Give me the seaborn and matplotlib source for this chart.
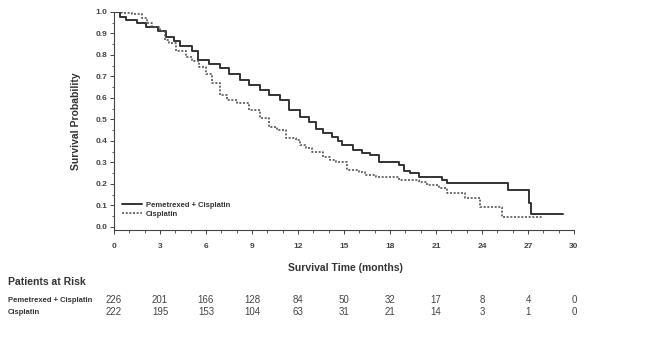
import numpy as np
import pandas as pd
import seaborn as sns
import matplotlib.pyplot as plt
from matplotlib.ticker import MultipleLocator
import matplotlib.transforms as mtransforms

# Kaplan-Meier step points
pem_time = [0, 0.4, 0.8, 1.5, 2.1, 2.9, 3.4, 3.9, 4.3, 5.1,
            5.5, 6.2, 6.9, 7.5, 8.2, 8.8, 9.5, 10.1, 10.8, 11.4,
            12.1, 12.7, 13.2, 13.6, 14.2, 14.6, 14.9, 15.6, 16.2, 16.7,
            17.3, 18.6, 18.9, 19.3, 19.9, 21.4, 21.7, 25.7, 27.05, 27.2,
            29.3]
pem_surv = [1.0, 0.975, 0.963, 0.95, 0.93, 0.91, 0.885, 0.865, 0.84, 0.82,
            0.777, 0.76, 0.74, 0.71, 0.684, 0.66, 0.637, 0.615, 0.59, 0.545,
            0.51, 0.49, 0.455, 0.437, 0.42, 0.40, 0.38, 0.358, 0.345, 0.335,
            0.30, 0.288, 0.26, 0.25, 0.234, 0.218, 0.203, 0.169, 0.113, 0.058,
            0.058]

cis_time = [0, 0.5, 1.2, 1.8, 2.15, 2.5, 3.0, 3.3, 3.6, 4.05,
            4.7, 5.1, 5.55, 6.0, 6.4, 6.9, 7.4, 8.0, 8.8, 9.5,
            10.1, 10.6, 11.2, 11.9, 12.1, 12.5, 12.9, 13.6, 14.1, 14.5,
            15.2, 16.0, 16.4, 17.1, 18.6, 19.9, 20.4, 21.2, 21.7, 22.9,
            23.9, 25.3, 28.0]
cis_surv = [1.0, 0.995, 0.99, 0.97, 0.947, 0.93, 0.91, 0.87, 0.855, 0.82,
            0.79, 0.77, 0.745, 0.71, 0.67, 0.614, 0.59, 0.576, 0.544, 0.507,
            0.465, 0.451, 0.414, 0.405, 0.38, 0.365, 0.35, 0.326, 0.31, 0.30,
            0.265, 0.256, 0.242, 0.232, 0.218, 0.21, 0.195, 0.18, 0.155, 0.135,
            0.094, 0.045, 0.045]

risk_times = [0, 3, 6, 9, 12, 15, 18, 21, 24, 27, 30]
pem_risk = [226, 201, 166, 128, 84, 50, 32, 17, 8, 4, 0]
cis_risk = [222, 195, 153, 104, 63, 31, 21, 14, 3, 1, 0]

sns.set_style("white")
plt.rcParams['font.family'] = ['Liberation Sans', 'DejaVu Sans']

fig = plt.figure(figsize=(6.66, 3.63), dpi=100)
ax = fig.add_axes([114 / 666, 1 - 230 / 363, 460 / 666, 218 / 363])

pem = pd.DataFrame({"t": pem_time, "s": pem_surv})
cis = pd.DataFrame({"t": cis_time, "s": cis_surv})
sns.lineplot(data=pem, x="t", y="s", ax=ax, drawstyle="steps-post",
             estimator=None, color="#333333", lw=1.4,
             label="Pemetrexed + Cisplatin")
sns.lineplot(data=cis, x="t", y="s", ax=ax, drawstyle="steps-post",
             estimator=None, color="#555555", lw=1.2, linestyle=(0, (1.2, 1.0)),
             label="Cisplatin")

ax.set_xlim(0, 30)
ax.set_ylim(-0.015, 1.0)
ax.set_xticks(range(0, 31, 3))
ax.set_yticks(np.arange(0, 1.01, 0.1))
ax.set_yticklabels([f"{v:.1f}" for v in np.arange(0, 1.01, 0.1)])
ax.xaxis.set_minor_locator(MultipleLocator(1))
ax.yaxis.set_minor_locator(MultipleLocator(0.05))
ax.tick_params(axis="both", which="major", length=3, width=0.7,
               labelsize=6, colors="#444444", direction="out", pad=2)
ax.tick_params(axis="both", which="minor", length=1.8, width=0.6,
               colors="#444444", direction="out")
ax.tick_params(bottom=True, left=True, which="both")
for lab in ax.get_xticklabels() + ax.get_yticklabels():
    lab.set_fontweight("bold")
ax.xaxis.set_tick_params(pad=6)

for side in ["top", "right"]:
    ax.spines[side].set_visible(False)
for side in ["left", "bottom"]:
    ax.spines[side].set_color("#444444")
    ax.spines[side].set_linewidth(0.8)

ax.set_xlabel("")
ax.set_ylabel("Survival Probability", fontsize=7.5, fontweight="bold",
              color="#333333", labelpad=10)

leg = ax.legend(loc="lower left", bbox_to_anchor=(0.005, 0.03), frameon=False,
                fontsize=5.5, handlelength=2.6, handletextpad=0.6,
                labelspacing=0.25, borderpad=0.2)
for txt in leg.get_texts():
    txt.set_fontweight("bold")
    txt.set_color("#333333")

fig.text(345 / 666, 1 - 268 / 363, "Survival Time (months)", ha="center",
         va="center", fontsize=7.5, fontweight="bold", color="#333333")
fig.text(8 / 666, 1 - 282 / 363, "Patients at Risk", ha="left", va="center",
         fontsize=7.5, fontweight="bold", color="#333333")

trans = mtransforms.blended_transform_factory(ax.transData, fig.transFigure)
row_y = [1 - 300 / 363, 1 - 312 / 363]
fig.text(8 / 666, row_y[0], "Pemetrexed + Cisplatin", ha="left", va="center",
         fontsize=5.5, fontweight="bold", color="#333333")
fig.text(8 / 666, row_y[1], "Cisplatin", ha="left", va="center",
         fontsize=5.5, fontweight="bold", color="#333333")
for t, a, b in zip(risk_times, pem_risk, cis_risk):
    ax.text(t, row_y[0], str(a), transform=trans, ha="center", va="center",
            fontsize=7, color="#444444", clip_on=False)
    ax.text(t, row_y[1], str(b), transform=trans, ha="center", va="center",
            fontsize=7, color="#444444", clip_on=False)

fig.savefig("out.png", dpi=100)
